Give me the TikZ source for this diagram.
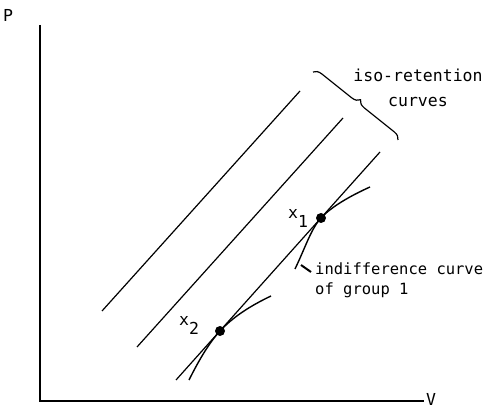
\documentclass[tikz,border=0pt]{standalone}
\usepackage{fontspec}
\setmonofont{DejaVu Sans Mono}
\usetikzlibrary{decorations.pathreplacing}

\begin{document}
\begin{tikzpicture}[x=1pt, y=-1pt,
            ax/.style={line width=1.4pt},
            iso/.style={line width=1.2pt},
            indiff/.style={line width=1.4pt},
            pt/.style={circle, fill, inner sep=0pt, minimum size=10pt},
            lab/.style={font=\ttfamily\fontsize{16.5}{20}\selectfont, inner sep=0pt}
        ]
        \useasboundingbox (0,0) rectangle (496,409);

        % Axes
        \coordinate (origin) at (40,401);
        \coordinate (ptop) at (40,25);
        \coordinate (vend) at (424,401);
        \node[lab] (p) at (8,15) {P};
        \node[lab] (v) at (431,399) {V};
        \draw[ax] (ptop) -- (origin) -- (vend);

        % Iso-retention lines
        \coordinate (a1) at (102,311);
        \coordinate (b1) at (300,91);
        \coordinate (a2) at (137,347);
        \coordinate (b2) at (343,118);
        \coordinate (a3) at (176,380);
        \coordinate (b3) at (380,152);
        \draw[iso] (a1) -- (b1);
        \draw[iso] (a2) -- (b2);
        \draw[iso] (a3) -- (b3);

        % Points
        \node[pt] (x1) at (321,218) {};
        \node[pt] (x2) at (220,331) {};
        \node[lab] (x1lab) at (298,218) {x\raisebox{-9pt}{1}};
        \node[lab] (x2lab) at (189,325) {x\raisebox{-9pt}{2}};

        % Indifference curves
        \draw[indiff] (295,269) .. controls (306,246) and (311,229) .. (x1.center)
            .. controls (331,207) and (350,196) .. (370,187);
        \draw[indiff] (189,380) .. controls (199,360) and (209,343) .. (x2.center)
            .. controls (233,317) and (250,306) .. (271,296);

        % Brace
        \coordinate (bra) at (313,72);
        \coordinate (brb) at (398,140);
        \draw[iso, decorate, decoration={brace, amplitude=8pt}] (bra) -- (brb);
        \node[lab, align=center, font=\ttfamily\fontsize{16.5}{25}\selectfont]
            (isolab) at (418,88) {iso-retention\\curves};

        % Indifference label
        \node[lab, align=left, anchor=west, font=\ttfamily\fontsize{15.5}{20}\selectfont]
            (ictext) at (315,280) {indifference curve\\of group 1};
        \coordinate (leadA) at (311,272);
        \coordinate (leadB) at (301,265);
        \draw[line width=2pt] (leadA) -- (leadB);

        \end{tikzpicture}
\end{document}
